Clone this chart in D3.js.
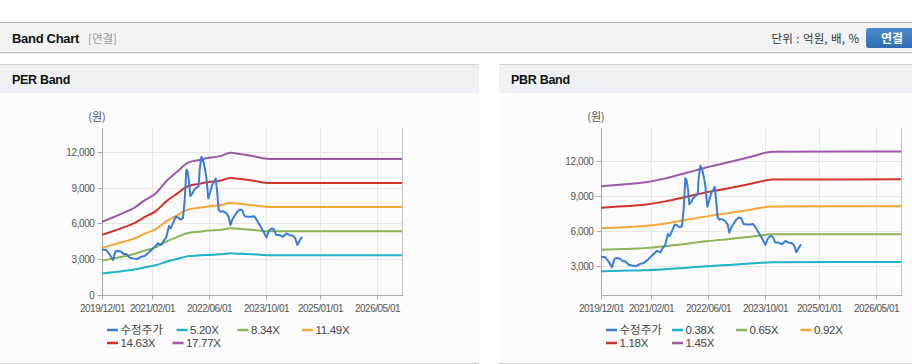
<!DOCTYPE html>
<html><head><meta charset="utf-8">
<script src="https://cdn.jsdelivr.net/npm/d3@7"></script>
<style>
html,body{margin:0;padding:0;background:#fff;}
svg{display:block;}
</style></head>
<body><svg id="c" width="912" height="364"></svg>
<script>
// ---------- DATA ----------
const xTickLabels = ["2019/12/01","2021/02/01","2022/06/01","2023/10/01","2025/01/01","2026/05/01"];
const xDomain = ["2019-12-01","2026-12-01"];

const perNames = ["수정주가","5.20X","8.34X","11.49X","14.63X","17.77X"];
const pbrNames = ["수정주가","0.38X","0.65X","0.92X","1.18X","1.45X"];
const seriesColors = ["#3a7dd6","#1fb3c8","#8cb355","#f5a733","#d3322b","#9b59a8"];

const perYTicks = [0,3000,6000,9000,12000];
const pbrYTicks = [3000,6000,9000,12000];

const perBandDates = ["2019-12-01","2020-03-01","2020-06-01","2020-09-01","2020-12-01","2021-03-01","2021-06-01","2021-09-01","2021-12-01","2022-03-01","2022-06-01","2022-09-01","2022-12-01","2023-03-01","2023-06-01","2023-09-01","2023-11-01","2026-12-01"];
const per520  = [1800,1900,2020,2140,2330,2490,2790,3020,3240,3310,3360,3410,3490,3450,3410,3360,3340,3340];
const per834  = [2880,3050,3230,3430,3730,3990,4480,4850,5200,5300,5400,5460,5590,5540,5470,5380,5350,5350];
const per1149 = [3970,4200,4460,4730,5140,5500,6170,6680,7160,7310,7440,7530,7710,7630,7540,7420,7380,7380];
const per1463 = [5060,5350,5670,6020,6550,7010,7850,8500,9120,9300,9470,9580,9810,9720,9600,9440,9390,9390];
const per1777 = [6140,6500,6890,7310,7950,8510,9540,10330,11080,11300,11500,11640,11920,11800,11660,11470,11410,11410];

const pbrBandDates = ["2019-12-01","2020-06-01","2020-12-01","2021-06-01","2021-12-01","2022-06-01","2022-12-01","2023-06-01","2023-12-01","2026-12-01"];
const pbr038 = [2580,2620,2660,2750,2880,3010,3120,3230,3350,3360];
const pbr065 = [4410,4470,4550,4710,4920,5150,5330,5530,5730,5740];
const pbr092 = [6240,6330,6440,6660,6970,7280,7550,7830,8110,8120];
const pbr118 = [8000,8120,8260,8540,8940,9340,9680,10040,10400,10420];
const pbr145 = [9830,9980,10150,10500,10980,11480,11900,12340,12780,12800];

const priceDates = ["2019-12-01","2020-01-07","2020-02-04","2020-03-04","2020-03-24","2020-04-15","2020-05-14","2020-06-03","2020-06-25","2020-07-24","2020-08-21","2020-09-24","2020-10-31","2020-11-29","2021-01-10","2021-02-22","2021-03-22","2021-04-20","2021-05-04","2021-06-01","2021-06-24","2021-07-08","2021-07-28","2021-08-20","2021-09-09","2021-09-29","2021-10-21","2021-11-05","2021-11-19","2021-11-30","2021-12-12","2021-12-23","2022-01-09","2022-01-23","2022-02-12","2022-03-04","2022-03-12","2022-03-27","2022-04-10","2022-04-24","2022-05-08","2022-05-25","2022-06-06","2022-06-26","2022-07-13","2022-07-27","2022-08-07","2022-08-21","2022-09-05","2022-09-27","2022-10-26","2022-11-15","2022-11-29","2022-12-16","2023-01-08","2023-01-27","2023-02-16","2023-03-08","2023-03-31","2023-04-28","2023-05-27","2023-06-19","2023-07-08","2023-08-06","2023-09-03","2023-10-02","2023-10-24","2023-11-16","2023-12-03","2023-12-26","2024-01-23","2024-02-21","2024-03-20","2024-04-17","2024-05-16","2024-06-05","2024-06-22","2024-07-12","2024-08-01"];
const priceValues = [3820,3770,3400,2930,3630,3710,3630,3430,3430,3130,3070,3010,3210,3270,3630,4050,4330,4190,4470,4830,5780,5580,6000,6560,6500,6330,6420,7950,10520,10330,9490,8290,8510,8790,8990,9130,10470,11580,11300,10690,9910,8090,8460,9210,9490,9770,8790,7170,6980,7030,6840,6560,5860,6330,6700,6980,7170,7120,6610,6560,6560,6610,6360,5860,5390,4830,5390,5580,5530,5020,5020,4880,5160,5020,4970,4740,4190,4550,4880];

// ---------- DRAW ----------
const parse = d3.timeParse("%Y-%m-%d");
const svg = d3.select("#c");
const KR = "'Noto Sans CJK KR','Noto Sans',sans-serif";
const NUM = "'Liberation Sans',Arial,sans-serif";

// top header
svg.append("line").attr("x1",0).attr("x2",912).attr("y1",22.5).attr("y2",22.5).attr("stroke","#b4b4b4");
svg.append("rect").attr("x",0).attr("y",23).attr("width",912).attr("height",29).attr("fill","#f3f3f3");
svg.append("line").attr("x1",0).attr("x2",912).attr("y1",52.5).attr("y2",52.5).attr("stroke","#c4c4c4");
svg.append("line").attr("x1",0).attr("x2",912).attr("y1",53.5).attr("y2",53.5).attr("stroke","#e6e6e6");
svg.append("text").attr("x",12).attr("y",43).text("Band Chart")
  .attr("font-family",NUM).attr("font-weight","bold").attr("font-size",13).attr("letter-spacing",-0.3).attr("fill","#111");
svg.append("text").attr("x",88).attr("y",43).text("[연결]")
  .attr("font-family",KR).attr("font-size",11.5).attr("fill","#999");
svg.append("text").attr("x",859).attr("y",43).attr("text-anchor","end").text("단위 : 억원, 배, %")
  .attr("font-family",KR).attr("font-size",11.5).attr("fill","#333").attr("word-spacing",1);
const grad = svg.append("defs").append("linearGradient").attr("id","btn").attr("x1",0).attr("x2",0).attr("y1",0).attr("y2",1);
grad.append("stop").attr("offset","0%").attr("stop-color","#4a8ad0");
grad.append("stop").attr("offset","100%").attr("stop-color","#2e6db5");
svg.append("rect").attr("x",866).attr("y",28).attr("width",54).attr("height",20).attr("rx",3).attr("fill","url(#btn)");
svg.append("text").attr("x",892).attr("y",42.5).attr("text-anchor","middle").text("연결")
  .attr("font-family",KR).attr("font-weight","bold").attr("font-size",12).attr("fill","#fff");

function panel(x0, w, title){
  const g = svg.append("g");
  g.append("rect").attr("x",x0).attr("y",64).attr("width",w).attr("height",299).attr("fill","#fbfbfb");
  g.append("rect").attr("x",x0).attr("y",65).attr("width",w).attr("height",28).attr("fill","#eef2f7");
  g.append("line").attr("x1",x0).attr("x2",x0+w).attr("y1",64.5).attr("y2",64.5).attr("stroke","#d2d2d2");
  g.append("line").attr("x1",x0).attr("x2",x0+w).attr("y1",363.5).attr("y2",363.5).attr("stroke","#c8c8c8");
  g.append("text").attr("x",x0+12).attr("y",84).text(title)
    .attr("font-family",NUM).attr("font-weight","bold").attr("font-size",12.5).attr("letter-spacing",-0.3).attr("fill","#111");
}
panel(0,479,"PER Band");
panel(499,413,"PBR Band");

function chart(left, yDomain, yTicks, names, bandDates, bands, legendOffsets){
  const top = 128, bottom = 295, right = left + 300;
  const x = d3.scaleTime().domain(xDomain.map(parse)).range([left, right]);
  const y = d3.scaleLinear().domain(yDomain).range([bottom, top]);
  const g = svg.append("g");
  const xTicks = xTickLabels.map(s => d3.timeParse("%Y/%m/%d")(s));

  // gridlines
  g.selectAll(".vg").data(xTicks.slice(1)).join("line")
    .attr("x1",d=>Math.round(x(d))+0.5).attr("x2",d=>Math.round(x(d))+0.5)
    .attr("y1",top).attr("y2",bottom).attr("stroke","#e6e6e6");
  g.selectAll(".hg").data(yTicks.filter(v=>y(v)<bottom-1)).join("line")
    .attr("x1",left).attr("x2",right).attr("y1",d=>Math.round(y(d))+0.5).attr("y2",d=>Math.round(y(d))+0.5)
    .attr("stroke","#e6e6e6");
  // right border
  g.append("line").attr("x1",right+0.5).attr("x2",right+0.5).attr("y1",top).attr("y2",bottom).attr("stroke","#c4c4c4");

  // axes
  const yAxis = d3.axisLeft(y).tickValues(yTicks).tickSize(5).tickPadding(3).tickFormat(d3.format(","));
  const ya = g.append("g").attr("transform",`translate(${left+0.5},0)`).call(yAxis);
  ya.select(".domain").attr("stroke","#aaa").attr("d",`M0,${top}V${bottom}`);
  ya.selectAll(".tick line").attr("stroke","#aaa");
  ya.selectAll(".tick text").attr("font-family",NUM).attr("font-size",10).attr("letter-spacing",-0.4).attr("fill","#555");

  const xAxis = d3.axisBottom(x).tickValues(xTicks).tickSize(4).tickPadding(5).tickFormat((d,i)=>xTickLabels[i]);
  const xa = g.append("g").attr("transform",`translate(0,${bottom+0.5})`).call(xAxis);
  xa.select(".domain").attr("stroke","#aaa").attr("d",`M${left},0H${right+1}`);
  xa.selectAll(".tick line").attr("stroke","#aaa");
  xa.selectAll(".tick text").attr("font-family",NUM).attr("font-size",10).attr("letter-spacing",-0.5).attr("fill","#555");
  ya.selectAll(".tick").attr("transform", d=>`translate(0,${Math.round(y(d))+0.5})`);
  xa.selectAll(".tick").attr("transform", d=>`translate(${Math.round(x(d))+0.5},0)`);

  g.append("text").attr("x",left-5).attr("y",121).attr("text-anchor","middle").text("(원)")
    .attr("font-family",KR).attr("font-size",11).attr("fill","#555");

  // bands
  const bd = bandDates.map(parse);
  const bandLine = d3.line().x(d=>x(d[0])).y(d=>y(d[1])).curve(d3.curveMonotoneX);
  bands.forEach((vals,i)=>{
    g.append("path").datum(vals.map((v,j)=>[bd[j],v])).attr("d",bandLine)
      .attr("fill","none").attr("stroke",seriesColors[i+1]).attr("stroke-width",2);
  });
  // price
  const pd = priceDates.map(parse);
  const priceLine = d3.line().x(d=>x(d[0])).y(d=>y(d[1]));
  g.append("path").datum(priceValues.map((v,j)=>[pd[j],v])).attr("d",priceLine)
    .attr("fill","none").attr("stroke",seriesColors[0]).attr("stroke-width",2).attr("stroke-linejoin","round");

  // legend
  const rowsY = [330, 343];
  let k = 0;
  legendOffsets.forEach((row,r)=>{
    row.forEach(off=>{
      const lx = left + 5 + off;
      g.append("line").attr("x1",lx).attr("x2",lx+11).attr("y1",rowsY[r]).attr("y2",rowsY[r])
        .attr("stroke",seriesColors[k]).attr("stroke-width",2.5);
      g.append("text").attr("x",lx+13.5).attr("y",rowsY[r]).attr("dy","0.36em").text(names[k])
        .attr("font-family", k===0?KR:NUM).attr("font-size", k===0?11.5:11.5).attr("letter-spacing",k===0?0:-0.3).attr("fill","#444");
      k++;
    });
  });
}

chart(102,[0,14000],perYTicks,perNames,perBandDates,[per520,per834,per1149,per1463,per1777],[[0,69.5,130.5,195],[0,65.5]]);
chart(601,[550,14800],pbrYTicks,pbrNames,pbrBandDates,[pbr038,pbr065,pbr092,pbr118,pbr145],[[0,66,130,194.5],[0,66]]);
</script></body></html>
